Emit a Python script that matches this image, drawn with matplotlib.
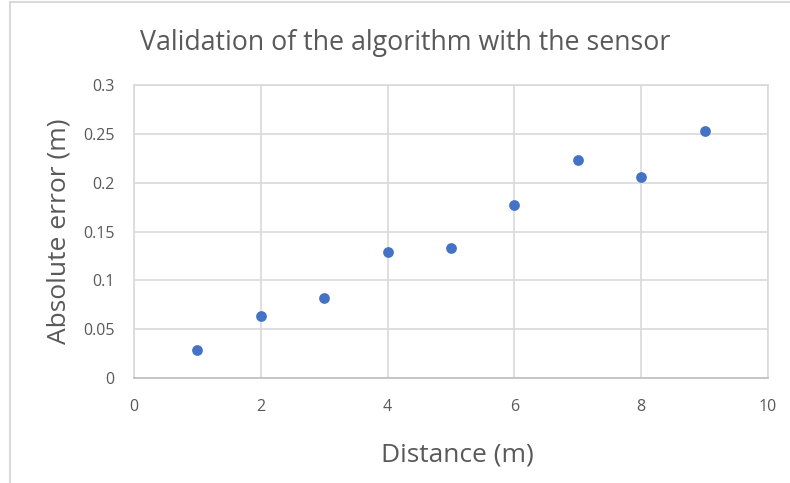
import matplotlib.pyplot as plt
from matplotlib.patches import Rectangle

distance = [1, 2, 3, 4, 5, 6, 7, 8, 9]
abs_error = [0.029, 0.063, 0.082, 0.129, 0.133, 0.177, 0.223, 0.206, 0.253]
x_ticks = [0, 2, 4, 6, 8, 10]
y_ticks = [0, 0.05, 0.1, 0.15, 0.2, 0.25, 0.3]
y_tick_labels = ['0', '0.05', '0.1', '0.15', '0.2', '0.25', '0.3']

plt.rcParams['font.family'] = ['Open Sans', 'DejaVu Sans']

fig = plt.figure(figsize=(7.9, 4.83), dpi=100)
ax = fig.add_axes([0.1696, 0.2174, 0.8026, 0.6066])

# chart frame
fig.patches.append(Rectangle((9.5 / 790, -0.1), 1.2, 1.1 - 2.5 / 483, transform=fig.transFigure,
                             fill=False, edgecolor='#d9d9d9', linewidth=1.5))

ax.scatter(distance, abs_error, s=60, color='#4472C4', zorder=3, linewidths=0)

ax.set_xlim(0, 10)
ax.set_ylim(0, 0.3)
ax.set_xticks(x_ticks)
ax.set_yticks(y_ticks)
ax.set_yticklabels(y_tick_labels)
ax.grid(True, color='#d9d9d9', linewidth=1.2)
ax.set_axisbelow(True)
for s in ax.spines.values():
    s.set_color('#d9d9d9')
    s.set_linewidth(1.2)
ax.spines['bottom'].set_color('#bfbfbf')
ax.tick_params(length=0, colors='#595959', labelsize=11.5)
ax.tick_params(axis='x', pad=15)
ax.tick_params(axis='y', pad=14)

fig.text(405 / 790, 1 - 43 / 483, 'Validation of the algorithm with the sensor',
         fontsize=19.3, color='#595959', ha='center', va='center')
ax.set_xlabel('Distance (m)', fontsize=19, color='#595959', labelpad=21)
ax.xaxis.set_label_coords(0.51, -0.22)
ax.set_ylabel('Absolute error (m)', fontsize=19, color='#595959', labelpad=8)

fig.savefig('out.png', dpi=100)
